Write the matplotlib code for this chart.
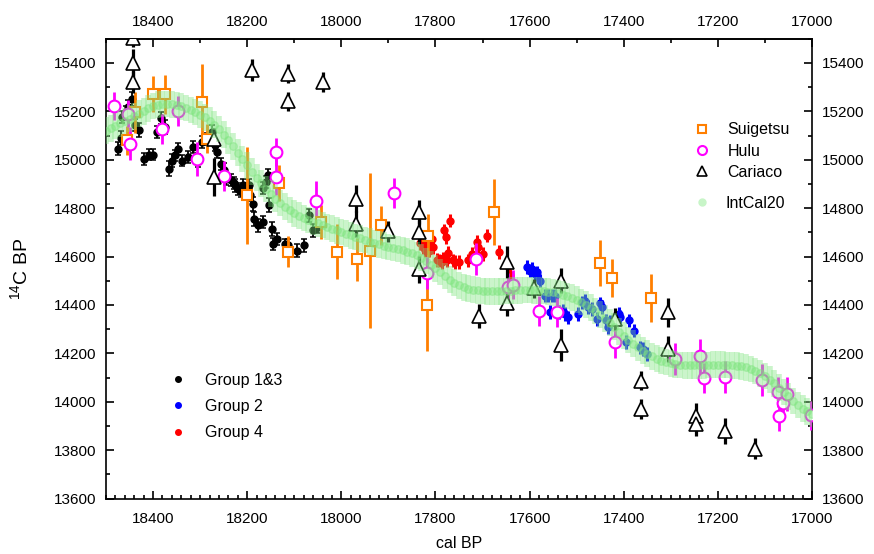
import numpy as np
import matplotlib
matplotlib.use("Agg")
import matplotlib.pyplot as plt
from matplotlib.ticker import MultipleLocator
from matplotlib.lines import Line2D

plt.rcParams['font.family'] = ['Liberation Sans', 'DejaVu Sans']
plt.rcParams['mathtext.default'] = 'regular'

# ---- IntCal20 curve (10-yr steps) ----
ic_x = list(range(18500, 16990, -10))
ic_y = [15120, 15130, 15140, 15150, 15160,
        15170, 15180, 15190, 15200, 15212, 15222, 15228, 15231, 15231, 15229,
        15226, 15221, 15214, 15206, 15197, 15187, 15175, 15162, 15145, 15127,
        15104, 15080, 15055, 15029, 15003, 14977, 14951, 14926, 14903, 14880,
        14860, 14840, 14822, 14806, 14792, 14779, 14769, 14760, 14751, 14744,
        14737, 14730, 14723, 14716, 14709, 14702, 14695, 14688, 14681, 14675,
        14669, 14662, 14656, 14650, 14645, 14640, 14636, 14631, 14626, 14620,
        14613, 14605, 14595, 14582, 14567, 14552, 14536, 14520, 14505, 14492,
        14481, 14473, 14467, 14463, 14460, 14458, 14457, 14457, 14457, 14457,
        14458, 14459, 14460, 14461, 14462, 14462, 14461, 14460, 14458, 14455,
        14452, 14448, 14443, 14437, 14430, 14422, 14413, 14402, 14389, 14375,
        14360, 14344, 14327, 14310, 14290, 14273, 14256, 14240, 14225, 14211,
        14199, 14188, 14178, 14170, 14164, 14159, 14155, 14152, 14150, 14150,
        14150, 14150, 14151, 14152, 14153, 14153, 14153, 14152, 14151, 14149,
        14146, 14142, 14136, 14128, 14118, 14106, 14092, 14076, 14059, 14041,
        14022, 14004, 13987, 13972, 13960, 13950]
ic_err = 55

# ---- Group 1&3 (black) ----
g13_x = [18474, 18469, 18465, 18458, 18453, 18445, 18438, 18429, 18419, 18409,
         18401, 18391, 18383, 18375, 18366, 18360, 18353, 18346, 18338, 18325,
         18316, 18304, 18297, 18286, 18275, 18268, 18265, 18256, 18249, 18244,
         18234, 18228, 18226, 18220, 18214, 18208, 18203, 18196, 18194, 18187,
         18186, 18176, 18166, 18166, 18161, 18155, 18154, 18148, 18145, 18137,
         18120, 18113, 18095, 18079, 18068, 18060, 18049]
g13_y = [15046, 15090, 15177, 15197, 15218, 15252, 15144, 15123, 15003, 15021,
         15021, 15115, 15173, 15135, 14963, 14997, 15019, 15043, 14997, 15011,
         15053, 14997, 15073, 15087, 15115, 15060, 15032, 14984, 14957, 14922,
         14915, 14905, 14894, 14880, 14870, 14894, 14880, 14897, 14853, 14818,
         14756, 14729, 14742, 14883, 14908, 14936, 14814, 14715, 14652, 14673,
         14652, 14646, 14625, 14646, 14770, 14708, 14722]
g13_err = [28, 30, 25, 25, 28, 30, 25, 28, 25, 22,
           22, 25, 25, 28, 30, 25, 22, 25, 22, 25,
           25, 25, 25, 25, 28, 25, 25, 25, 28, 25,
           25, 25, 28, 25, 25, 25, 25, 25, 25, 28,
           28, 28, 25, 25, 25, 25, 28, 28, 25, 25,
           22, 25, 25, 25, 28, 25, 25]

# ---- Group 2 (blue) ----
g2_x = [17605, 17599, 17594, 17589, 17584, 17577, 17567, 17560, 17557, 17553,
        17546, 17537, 17530, 17525, 17518, 17497, 17489, 17482, 17475, 17468,
        17456, 17450, 17447, 17438, 17433, 17429, 17419, 17409, 17408, 17395,
        17388, 17378, 17365, 17358, 17350]
g2_y = [14556, 14542, 14549, 14528, 14535, 14501, 14439, 14439, 14370, 14439,
        14439, 14370, 14377, 14363, 14349, 14363, 14411, 14418, 14391, 14384,
        14342, 14407, 14391, 14336, 14308, 14331, 14253, 14363, 14352, 14246,
        14336, 14294, 14225, 14218, 14197]
g2_err = [28, 28, 28, 28, 28, 28, 28, 28, 28, 28,
          28, 28, 28, 28, 28, 28, 28, 28, 28, 28,
          28, 28, 28, 28, 28, 28, 28, 28, 28, 28,
          28, 28, 28, 28, 28]

# ---- Group 4 (red) ----
g4_x = [17833, 17827, 17822, 17819, 17813, 17808, 17805, 17797, 17792, 17787,
        17783, 17782, 17778, 17776, 17773, 17769, 17763, 17759, 17751, 17730,
        17723, 17712, 17709, 17700, 17691, 17664, 17645, 17642]
g4_y = [14655, 14639, 14627, 14660, 14625, 14673, 14639, 14586, 14584, 14577,
        14593, 14708, 14680, 14584, 14614, 14749, 14584, 14577, 14577, 14584,
        14611, 14662, 14639, 14611, 14687, 14618, 14563, 14522]
g4_err = [28, 28, 28, 28, 28, 28, 28, 28, 28, 28,
          28, 28, 28, 28, 28, 28, 28, 28, 28, 28,
          28, 28, 28, 28, 28, 28, 28, 28]

# ---- Suigetsu ----
su_x = [18456, 18438, 18400, 18375, 18295, 18285, 18201, 18132, 18113, 18043,
        18010, 17967, 17939, 17916, 17815, 17817, 17675, 17450, 17424, 17343]
su_y = [15080, 15197, 15273, 15271, 15239, 15087, 14853, 14905, 14621, 14742,
        14621, 14588, 14625, 14729, 14687, 14398, 14784, 14573, 14512, 14429]
su_err = [60, 85, 75, 80, 155, 60, 200, 75, 65, 70,
          115, 90, 320, 80, 90, 190, 135, 95, 80, 100]

# ---- Hulu ----
hu_x = [18483, 18453, 18448, 18382, 18348, 18307, 18249, 18139, 18139, 18054,
        17888, 17819, 17714, 17645, 17636, 17580, 17542, 17419, 17291, 17238,
        17230, 17185, 17107, 17072, 17070, 17061, 17053, 17003]
hu_y = [15222, 15190, 15066, 15128, 15201, 15004, 14933, 15032, 14928, 14828,
        14864, 14533, 14590, 14473, 14483, 14377, 14370, 14246, 14177, 14188,
        14097, 14101, 14091, 14039, 13943, 13995, 14032, 13945]
hu_err = [58, 55, 68, 62, 62, 69, 60, 58, 75, 86,
          62, 65, 65, 60, 60, 62, 60, 65, 65, 72,
          62, 66, 66, 62, 62, 55, 72, 60]

# ---- Cariaco ----
ca_x = [18442, 18442, 18442, 18271, 18271, 18190, 18113, 18113, 18040, 17969,
        17969, 17900, 17834, 17834, 17834, 17707, 17649, 17649, 17590, 17533,
        17533, 17419, 17363, 17363, 17305, 17305, 17247, 17247, 17185, 17120]
ca_y = [15505, 15399, 15322, 15087, 14928, 15370, 15356, 15242, 15322, 14839,
        14735, 14704, 14784, 14701, 14547, 14356, 14577, 14408, 14469, 14501,
        14235, 14342, 14087, 13970, 14370, 14218, 13943, 13908, 13880, 13807]
ca_err = [40, 60, 45, 45, 79, 45, 38, 40, 40, 55,
          55, 45, 50, 50, 55, 50, 65, 55, 40, 50,
          65, 45, 40, 40, 60, 55, 50, 50, 55, 45]

ORANGE = '#FF7F00'
MAGENTA = '#FF00FF'
GREEN = '#7FE57F'

fig = plt.figure(figsize=(8.74, 5.54), dpi=100)
ax = fig.add_axes([0.1213, 0.100, 0.8077, 0.830])

# groups
ax.errorbar(g13_x, g13_y, yerr=g13_err, fmt='o', ms=5, color='black',
            elinewidth=1.3, capsize=2.2, capthick=1.1, zorder=3)
ax.errorbar(g2_x, g2_y, yerr=g2_err, fmt='o', ms=5, color='#0000FF',
            elinewidth=2.2, capsize=0, zorder=3)
ax.errorbar(g4_x, g4_y, yerr=g4_err, fmt='o', ms=5, color='#FF0000',
            elinewidth=2.2, capsize=0, zorder=3)

# archives
ax.errorbar(su_x, su_y, yerr=su_err, fmt='s', ms=7.5, mfc='white', mec=ORANGE,
            mew=1.5, color=ORANGE, elinewidth=2.0, capsize=0, zorder=4)
ax.errorbar(hu_x, hu_y, yerr=hu_err, fmt='o', ms=8.5, mfc='white', mec=MAGENTA,
            mew=1.5, color=MAGENTA, elinewidth=2.0, capsize=0, zorder=4)
ax.errorbar(ca_x, ca_y, yerr=ca_err, fmt='^', ms=10, mfc='white', mec='black',
            mew=1.2, color='black', elinewidth=2.3, capsize=0, zorder=4)

# IntCal20 band drawn over everything
ax.errorbar(ic_x, ic_y, yerr=ic_err, fmt='o', ms=5.5, color=GREEN, mec=GREEN,
            alpha=0.4, elinewidth=4, capsize=0, zorder=6)

ax.set_xlim(18500, 17000)
ax.set_ylim(13600, 15500)

ax.xaxis.set_major_locator(MultipleLocator(200))
ax.xaxis.set_minor_locator(MultipleLocator(20))
ax.yaxis.set_major_locator(MultipleLocator(200))
ax.yaxis.set_minor_locator(MultipleLocator(100))
ax.tick_params(which='both', direction='in', top=False, right=True,
               labelright=True, width=1.2, labelsize=11)
ax.tick_params(axis='x', which='both', pad=10)
ax.tick_params(axis='y', which='both', pad=7)
ax.tick_params(which='major', length=6)
ax.tick_params(which='minor', length=3)

top = ax.secondary_xaxis('top')
top.xaxis.set_major_locator(MultipleLocator(200))
top.xaxis.set_minor_locator(MultipleLocator(100))
top.tick_params(which='both', direction='in', width=1.2, labelsize=11, pad=7)
top.tick_params(which='major', length=6)
top.tick_params(which='minor', length=3)
top.spines['top'].set_linewidth(1.2)

for s in ax.spines.values():
    s.set_linewidth(1.2)

ax.set_xlabel('cal BP', fontsize=11.5, va='center')
ax.xaxis.set_label_coords(0.5, -0.098)
ax.set_ylabel('$^{14}$C BP', fontsize=14, va='center')
ax.yaxis.set_label_coords(-0.122, 0.5)

# legends
h1 = [Line2D([], [], ls='none', marker='s', ms=6, mfc='white', mec=ORANGE, mew=1.5),
      Line2D([], [], ls='none', marker='o', ms=6.5, mfc='white', mec=MAGENTA, mew=1.5),
      Line2D([], [], ls='none', marker='^', ms=7, mfc='white', mec='black', mew=1.2)]
leg1 = ax.legend(h1, ['Suigetsu', 'Hulu', 'Cariaco'], loc='upper left',
                 bbox_to_anchor=(0.81, 0.85), frameon=False, fontsize=11.5,
                 handlelength=1.2, handletextpad=1.0, labelspacing=0.4)
ax.add_artist(leg1)
h2 = [Line2D([], [], ls='none', marker='o', ms=5, color='#C8F5C8')]
leg2 = ax.legend(h2, ['IntCal20'], loc='upper left', bbox_to_anchor=(0.81, 0.69),
                 frameon=False, fontsize=11.5, handlelength=1.2, handletextpad=0.9)
ax.add_artist(leg2)
h3 = [Line2D([], [], ls='none', marker='o', ms=4, color='black'),
      Line2D([], [], ls='none', marker='o', ms=4, color='#0000FF'),
      Line2D([], [], ls='none', marker='o', ms=4, color='#FF0000')]
ax.legend(h3, ['Group 1&3', 'Group 2', 'Group 4'], loc='upper left',
          bbox_to_anchor=(0.068, 0.305), frameon=False, fontsize=11.5,
          handlelength=1.2, handletextpad=1.1, labelspacing=0.7)

fig.savefig('out.png', dpi=100)
